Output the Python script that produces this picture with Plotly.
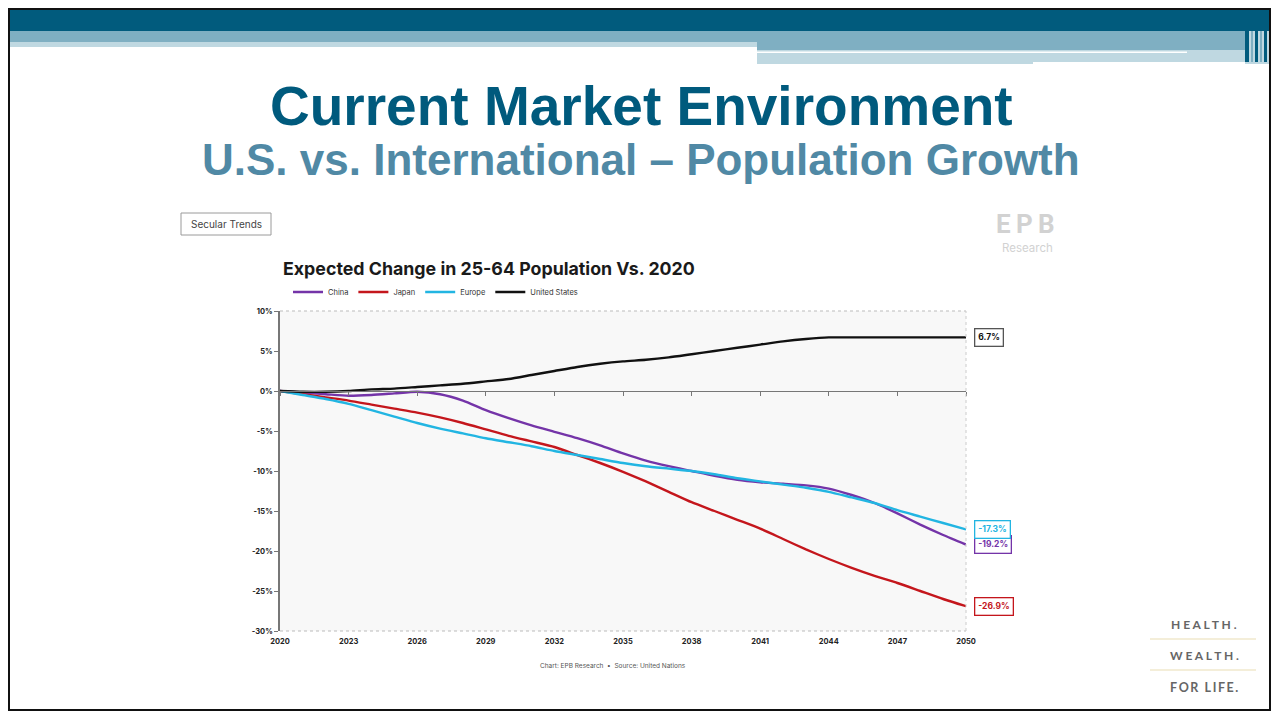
import plotly.graph_objects as go

# the page adds an 8px body margin, so the figure covers the slide from 8px in
OFF = 8
W, H = 1279 - 2 * OFF, 719 - 2 * OFF

years = list(range(2020, 2051))

china = [0, -0.2, -0.4, -0.6, -0.5, -0.3, -0.1, -0.4, -1.2, -2.4, -3.4, -4.3, -5.1, -5.9, -6.8,
         -7.8, -8.7, -9.4, -10.0, -10.6, -11.1, -11.4, -11.6, -11.8, -12.2, -13.0, -14.0,
         -15.3, -16.7, -18.0, -19.2]
japan = [0, -0.4, -0.8, -1.2, -1.7, -2.2, -2.7, -3.3, -4.0, -4.8, -5.6, -6.3, -7.0, -8.0, -9.0,
         -10.1, -11.3, -12.6, -13.9, -15.0, -16.1, -17.2, -18.5, -19.8, -21.0, -22.1, -23.1,
         -24.0, -25.0, -26.0, -26.9]
europe = [0, -0.5, -1.0, -1.6, -2.4, -3.2, -4.0, -4.7, -5.3, -5.9, -6.4, -6.9, -7.5, -8.0, -8.5,
          -9.0, -9.4, -9.7, -10.0, -10.4, -10.9, -11.3, -11.7, -12.1, -12.6, -13.3, -14.0,
          -14.9, -15.7, -16.5, -17.3]
usa = [0, -0.1, -0.1, 0.0, 0.2, 0.3, 0.5, 0.7, 0.9, 1.2, 1.5, 2.0, 2.5, 3.0, 3.4, 3.7, 3.9,
       4.2, 4.6, 5.0, 5.4, 5.8, 6.2, 6.5, 6.7, 6.7, 6.7, 6.7, 6.7, 6.7, 6.7]

series = [
    ("China", china, "#7434A8"),
    ("Japan", japan, "#C4161C"),
    ("Europe", europe, "#22B5E2"),
    ("United States", usa, "#111111"),
]

y_ticks = [10, 5, 0, -5, -10, -15, -20, -25, -30]
x_ticks = list(range(2020, 2051, 3))


def px(x):
    return (x - OFF) / W


def py(y):
    return 1 - (y - OFF) / H


fig = go.Figure()
for name, vals, col in series:
    fig.add_trace(go.Scatter(
        x=years, y=vals, name=name, mode="lines",
        line=dict(color=col, width=2.4, shape="spline", smoothing=0.6),
    ))

# end-of-line value boxes
for name, vals, col in series:
    fig.add_annotation(
        x=years[-1], y=vals[-1], xref="x", yref="y", text=f"{vals[-1]:.1f}%",
        showarrow=False, xanchor="left", xshift=8,
        font=dict(family="Inter", size=8.5, color=col, weight="bold"),
        bordercolor=col if name != "United States" else "#555555", borderwidth=1.3,
        borderpad=3, bgcolor="white",
    )

shapes = []
# frame lines of the plot area
shapes.append(dict(type="line", xref="x domain", yref="y domain", x0=0, x1=1, y0=1, y1=1,
                   line=dict(color="#BBBBBB", width=1, dash="dot")))
shapes.append(dict(type="line", xref="x domain", yref="y domain", x0=0, x1=1, y0=0, y1=0,
                   line=dict(color="#BBBBBB", width=1, dash="dot")))
shapes.append(dict(type="line", xref="x domain", yref="y domain", x0=1, x1=1, y0=0, y1=1,
                   line=dict(color="#CCCCCC", width=1, dash="dot")))


def rect(x0, y0, x1, y1, color):
    shapes.append(dict(type="rect", xref="paper", yref="paper", x0=px(x0), x1=px(x1),
                       y0=py(y1), y1=py(y0), fillcolor=color, line=dict(width=0), layer="above"))


# slide header bands
rect(0, 0, 1279, 31, "#015B7D")
rect(0, 31, 1245, 42, "#7FAFC2")
rect(757, 42, 1245, 50, "#7FAFC2")
rect(3, 42, 757, 47, "#BFD8E1")
rect(757, 50, 1245, 64, "#BFD8E1")
rect(757, 51.5, 1187, 53, "#FFFFFF")
rect(1033, 62, 1250, 64, "#FFFFFF")
# right-hand vertical stripes
rect(1245, 0, 1276, 64, "#BFD8E1")
for x0, x1, c in [(1245, 1249, "#015B7D"), (1251, 1253, "#7FAFC2"), (1255, 1258, "#015B7D"),
                  (1260, 1262, "#7FAFC2"), (1264, 1267, "#015B7D"), (1269, 1271, "#7FAFC2"),
                  (1272, 1275, "#015B7D")]:
    rect(x0, 0, x1, 62, c)
rect(1245, 0, 1279, 31, "#015B7D")

# "Secular Trends" button
shapes.append(dict(type="rect", xref="paper", yref="paper", x0=px(181), x1=px(271),
                   y0=py(235), y1=py(213), line=dict(color="#9A9A9A", width=1),
                   fillcolor="white"))

# tagline separators
for yy in (639, 670):
    shapes.append(dict(type="line", xref="paper", yref="paper", x0=px(1150), x1=px(1256),
                       y0=py(yy), y1=py(yy), line=dict(color="#F1E8CC", width=1.5)))

# slide border
shapes.append(dict(type="rect", xref="paper", yref="paper", x0=0, x1=1, y0=0, y1=1,
                   line=dict(color="#111111", width=4), layer="above"))


def text(x, y, s, size, color, family="Liberation Sans", weight="normal", anchor="center"):
    fig.add_annotation(x=px(x), y=py(y), xref="paper", yref="paper", text=s, showarrow=False,
                       xanchor=anchor, yanchor="middle",
                       font=dict(family=family, size=size, color=color, weight=weight))


text(641, 106, "Current Market Environment", 55, "#005A7D", weight="bold")
text(641, 159, "U.S. vs. International \u2013 Population Growth", 44, "#5089A5", weight="bold")
text(226, 224, "Secular Trends", 10, "#444444", family="Inter")
text(281, 269, "Expected Change in 25-64 Population Vs. 2020", 17.8, "#1A1A1A",
     family="Inter", weight="bold", anchor="left")
text(613, 666, "Chart: EPB Research  \u2022  Source: United Nations", 6.5, "#555555",
     family="Inter")
text(1026, 224, "E\u2009P\u2009B", 26, "#D2D2D2", family="Roboto", weight="bold")
text(1027, 248, "Research", 11.5, "#D2D2D2", family="Inter")
text(1204, 624, "H E A L T H .", 12, "#666666", family="Lato", weight="bold")
text(1204, 655, "W E A L T H .", 12, "#666666", family="Lato", weight="bold")
text(1204, 687, "F\u2009O\u2009R\u2002L\u2009I\u2009F\u2009E\u2009.", 12.5, "#666666",
     family="Lato", weight="bold")

fig.update_layout(
    width=W, height=H,
    margin=dict(l=0, r=0, t=0, b=0, pad=0, autoexpand=False),
    paper_bgcolor="white",
    plot_bgcolor="#F8F8F8",
    shapes=shapes,
    showlegend=True,
    legend=dict(
        orientation="h", x=px(288), y=py(292), xanchor="left", yanchor="middle",
        font=dict(family="Inter", size=7.5, color="#333333"),
        itemwidth=30, bgcolor="rgba(0,0,0,0)",
    ),
    xaxis=dict(
        domain=[px(280), px(966)], range=[2020, 2050],
        tickvals=x_ticks, ticktext=[str(t) for t in x_ticks],
        showgrid=False, zeroline=False, showline=False, ticks="",
        tickfont=dict(family="Inter", size=7.5, color="#222222", weight="bold"),
        ticklabelstandoff=4, automargin=False,
    ),
    xaxis2=dict(
        overlaying="x", matches="x", anchor="free", position=py(391),
        range=[2020, 2050], tickvals=x_ticks, showticklabels=False,
        showline=True, linecolor="#777777", linewidth=1.2, automargin=False,
        ticks="outside", ticklen=4, tickcolor="#777777", showgrid=False,
    ),
    yaxis=dict(
        domain=[py(631), py(311)], range=[-30, 10],
        tickvals=y_ticks, ticktext=[f"{t}%" for t in y_ticks],
        showgrid=False, zeroline=False, automargin=False,
        showline=True, linecolor="#777777", linewidth=1.5,
        ticks="outside", ticklen=4, tickcolor="#777777",
        tickfont=dict(family="Inter", size=7.5, color="#222222", weight="bold"),
    ),
)

# invisible trace to activate the zero-line axis
fig.add_trace(go.Scatter(x=[2020], y=[0], xaxis="x2", mode="markers",
                         marker=dict(opacity=0), showlegend=False, hoverinfo="skip"))

fig.write_html("out.html")
